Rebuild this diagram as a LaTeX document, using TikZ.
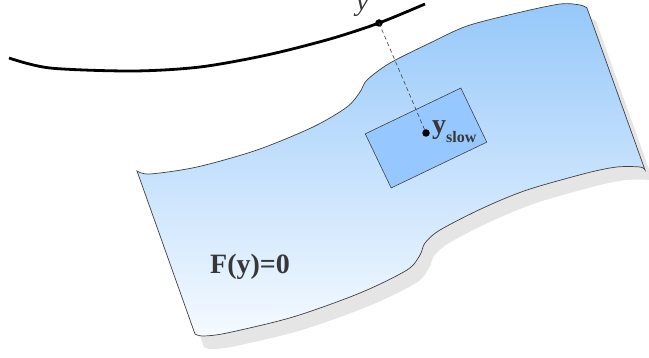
\documentclass[tikz,border=0pt]{standalone}
\usepackage{fontspec}
\setmainfont{Liberation Serif}
\usepackage{xcolor}
\usepackage{tikz}
\usetikzlibrary{positioning, calc}

\definecolor{sheettop}{RGB}{150,200,250}
\definecolor{sheetbottom}{RGB}{245,250,255}
\definecolor{patchblue}{RGB}{150,200,255}
\definecolor{labelgray}{RGB}{55,55,55}

\begin{document}
\begin{tikzpicture}[x=1pt, y=-1pt,
    dot/.style={circle, fill=black, inner sep=0pt, minimum size=7.5pt},
    mathlabel/.style={text=labelgray, inner sep=0pt, anchor=base west, font=\fontsize{28}{30}\selectfont\bfseries}]
    \useasboundingbox (0,0) rectangle (649,358);
    \clip (0,0) rectangle (649,358);
    \path[draw=black!75, line width=0.7pt, top color=sheettop, bottom color=sheetbottom,
          preaction={fill=black!10, transform canvas={xshift=9pt, yshift=-13pt}}]
        plot[smooth] coordinates {(137,171) (150,174) (197,167) (257,150) (313,127) (347,107) (360,92) (367,80) (390,63) (430,43) (467,26) (517,13) (560,4) (580,5) (587,8)}
        -- plot[smooth] coordinates {(645,170) (640,167) (617,167) (587,173) (527,190) (483,208) (440,230) (425,243) (420,255) (407,270) (360,293) (293,317) (227,333) (203,336) (195,334)}
        -- cycle;
    \node[draw=black!75, fill=patchblue, line width=0.6pt, minimum width=106pt, minimum height=60pt, rotate=25.6] (patch) at (426,138) {};
    \draw[line width=2.8pt] plot[smooth] coordinates {(9,58) (50,68) (133,71) (200,67) (267,55) (330,39) (379,23) (425,4)};
    \node[dot] (ypoint) at (379,23) {};
    \node[dot] (yslowpoint) at (426,133) {};
    \draw[black!75, line width=0.6pt, dash pattern=on 4pt off 3pt] (ypoint.center) -- (yslowpoint.center);
    \node[text=labelgray, inner sep=0pt, anchor=base west, font=\fontsize{28}{30}\selectfont\itshape] (ylabel) at (356,11) {y};
    \node[mathlabel] (yslowlabel) at (432,134) {y\raisebox{-9pt}{\fontsize{16}{18}\selectfont slow}};
    \node[mathlabel] (flabel) at (210,274) {F(y)=0};
\end{tikzpicture}
\end{document}
